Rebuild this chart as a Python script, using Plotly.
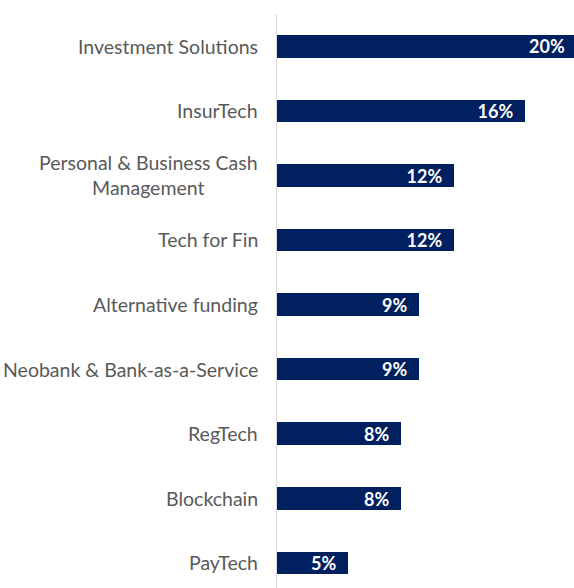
import plotly.graph_objects as go

# categories, top to bottom
categories = [
    "Investment Solutions",
    "InsurTech",
    "Personal & Business Cash<br>Management",
    "Tech for Fin",
    "Alternative funding",
    "Neobank & Bank-as-a-Service",
    "RegTech",
    "Blockchain",
    "PayTech",
]
# bar lengths (share, %)
shares = [19.5, 16.0, 11.45, 11.45, 9.15, 9.15, 8.0, 8.0, 4.55]
# printed data labels
share_labels = ["20%", "16%", "12%", "12%", "9%", "9%", "8%", "8%", "5%"]

NAVY = "#002060"
GREY_TEXT = "#595959"
X_MAX = 19.16  # chart is cropped on the right, the top bar runs off the edge

label_font = dict(family="Lato", size=18, color="white", weight="bold")

# bars running past the crop get their label pinned to the right edge instead
bar_text = [
    "" if v > X_MAX else s + "\u00a0\u00a0" for v, s in zip(shares, share_labels)
]

fig = go.Figure()

fig.add_trace(
    go.Bar(
        x=shares,
        y=categories,
        orientation="h",
        width=0.35,
        marker=dict(color=NAVY, line=dict(width=0)),
        text=bar_text,
        textposition="inside",
        insidetextanchor="end",
        textangle=0,
        constraintext="none",
        textfont=label_font,
        cliponaxis=True,
        hoverinfo="skip",
    )
)

for cat, v, s in zip(categories, shares, share_labels):
    if v > X_MAX:
        fig.add_annotation(
            x=1,
            xref="paper",
            y=cat,
            yref="y",
            text=s,
            showarrow=False,
            xanchor="right",
            xshift=-7,
            font=label_font,
        )

# category labels, right aligned next to the axis, centred when wrapped
for cat in categories:
    fig.add_annotation(
        x=0,
        xref="paper",
        y=cat,
        yref="y",
        text=cat,
        showarrow=False,
        xanchor="right",
        xshift=-17,
        align="center",
        font=dict(family="Lato", size=19.5, color=GREY_TEXT),
    )

fig.update_layout(
    width=574,
    height=588,
    margin=dict(l=277, r=0, t=14, b=0),
    paper_bgcolor="white",
    plot_bgcolor="white",
    showlegend=False,
    bargap=0,
)
fig.update_xaxes(
    range=[0, X_MAX],
    showgrid=False,
    zeroline=False,
    showticklabels=False,
    showline=False,
    ticks="",
)
fig.update_yaxes(
    range=[8.39, -0.5],
    showgrid=False,
    zeroline=False,
    showticklabels=False,
    showline=True,
    linecolor="#D9D9D9",
    linewidth=1,
    ticks="",
)

fig.write_html(
    "out.html",
    config={"displayModeBar": False},
    post_script="document.body.style.margin='0';document.body.style.overflow='hidden';",
)
